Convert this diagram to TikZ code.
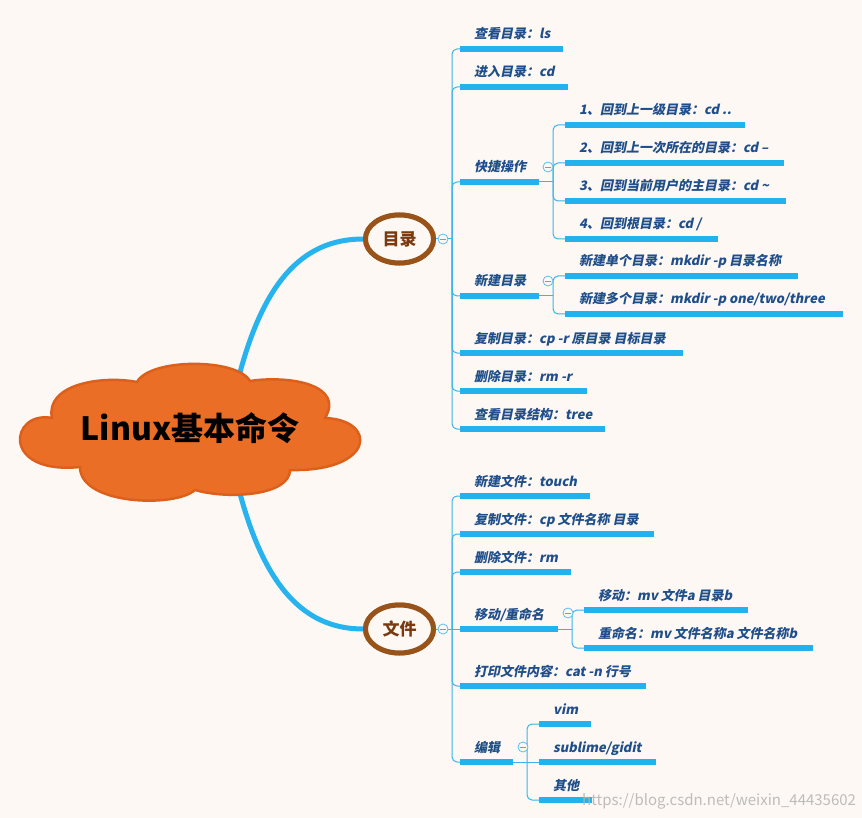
\documentclass[tikz,border=0pt]{standalone}
\usepackage{fontspec}
\newfontfamily\cjk{Noto Sans CJK SC}
\newfontfamily\cjkit{Noto Sans CJK SC}[BoldFeatures={FakeSlant=0.2}]
\usetikzlibrary{shapes.geometric}
\definecolor{bg}{HTML}{FDF8F3}
\definecolor{barblue}{HTML}{22B2EE}
\definecolor{lineblue}{HTML}{3AB4EA}
\definecolor{mainblue}{HTML}{27B4EE}
\definecolor{txtblue}{HTML}{1F4E8A}
\definecolor{ebrown}{HTML}{98531A}
\definecolor{etext}{HTML}{7A3A10}
\definecolor{cloudfill}{HTML}{EB6E27}
\definecolor{cloudline}{HTML}{DC601C}
\tikzset{
  bar/.style={rectangle, fill=barblue, draw=none, inner sep=0pt, minimum height=6pt, anchor=west},
  lbl/.style={anchor=base west, text=txtblue, inner sep=0pt, font=\cjkit\bfseries\fontsize{13}{13}\selectfont},
  conn/.style={draw=lineblue, line width=1pt, rounded corners=5pt},
  fold/.style={circle, draw=lineblue!85, fill=bg, line width=0.8pt, minimum size=10pt, inner sep=0pt,
    path picture={\draw[lineblue, line width=0.8pt] ([xshift=-2.6pt]path picture bounding box.center) -- ([xshift=2.6pt]path picture bounding box.center);}},
  topic/.style={ellipse, draw=ebrown, line width=5pt, fill=bg, minimum width=68pt, minimum height=48pt, inner sep=0pt, text=etext, font=\cjk\bfseries\fontsize{17}{17}\selectfont},
  mainconn/.style={draw=mainblue, line width=5pt},
}
\newcommand\leafitem[5]{%
  \node[bar, minimum width={#3-#2}] (#1) at (#2,#4) {};
  \node[lbl] (#1t) at (#2+14,#4-10) {#5};}
\begin{document}
\begin{tikzpicture}[x=1pt,y=-1pt]
\useasboundingbox (0,0) rectangle (862,818);
\fill[bg] (0,0) rectangle (862,818);

% topics
\node[topic] (mulu) at (399.5,239) {目录};
\node[topic] (wenjian) at (399.5,629) {文件};

% main connectors
\coordinate (rt) at (238,380);
\coordinate (rb) at (238,486);
\draw[mainconn] (rt) .. controls (262,286) and (300,239) .. (mulu.west);
\draw[mainconn] (rb) .. controls (262,580) and (300,629) .. (wenjian.west);

% cloud
\draw[fill=cloudfill, draw=cloudline, line width=2.5pt]
  (80,467) .. controls (0,475) and (10,410) .. (52,418)
  .. controls (45,385) and (100,375) .. (137,382)
  .. controls (150,358) and (237,358) .. (250,381)
  .. controls (290,375) and (345,385) .. (325,418)
  .. controls (378,420) and (375,472) .. (290,470)
  .. controls (290,495) and (230,500) .. (195,490)
  .. controls (175,508) and (80,505) .. (80,467) -- cycle;
\node[font=\cjk\bfseries\fontsize{32}{32}\selectfont, text=black, inner sep=0pt] (root) at (190,428) {Linux基本命令};
\node[topic] at (mulu) {目录};
\node[topic] at (wenjian) {文件};

% ---------- 目录 branch ----------
\leafitem{m1}{460}{563}{49}{查看目录：ls}
\leafitem{m2}{460}{568}{87}{进入目录：cd}
\leafitem{m3}{460}{539}{182}{快捷操作}
\leafitem{m4}{460}{539}{296}{新建目录}
\leafitem{m5}{460}{683}{353}{复制目录：cp -r 原目录 目标目录}
\leafitem{m6}{460}{587}{391}{删除目录：rm -r}
\leafitem{m7}{460}{605}{429}{查看目录结构：tree}

\coordinate (mj) at (452,239);
\draw[conn] (mulu.east) -- (mj);
\foreach \c in {m1,m2,m3,m4,m5,m6,m7} { \draw[conn] (mj) |- (\c.west); }
\node[fold] (fm) at (443,239) {};

\leafitem{s1}{565}{745}{125}{1、回到上一级目录：cd ..}
\leafitem{s2}{565}{784}{163}{2、回到上一次所在的目录：cd –}
\leafitem{s3}{565}{786}{201}{3、回到当前用户的主目录：cd \textasciitilde}
\leafitem{s4}{565}{718}{239}{4、回到根目录：cd /}
\coordinate (kj) at (553,182);
\draw[conn] (m3.east) -- (kj);
\foreach \c in {s1,s2,s3,s4} { \draw[conn] (kj) |- (\c.west); }
\node[fold] (fk) at (548,167) {};

\leafitem{n1}{565}{798}{276}{新建单个目录：mkdir -p 目录名称}
\leafitem{n2}{565}{843}{314}{新建多个目录：mkdir -p one/two/three}
\coordinate (xj) at (553,296);
\draw[conn] (m4.east) -- (xj);
\foreach \c in {n1,n2} { \draw[conn] (xj) |- (\c.west); }
\node[fold] (fx) at (548,281) {};

% ---------- 文件 branch ----------
\leafitem{f1}{460}{590}{496}{新建文件：touch}
\leafitem{f2}{460}{654}{534}{复制文件：cp 文件名称 目录}
\leafitem{f3}{460}{571}{572}{删除文件：rm}
\leafitem{f4}{460}{558}{629}{移动/重命名}
\leafitem{f5}{460}{646}{686}{打印文件内容：cat -n 行号}
\leafitem{f6}{460}{513}{762}{编辑}

\coordinate (wj) at (452,629);
\draw[conn] (wenjian.east) -- (wj);
\foreach \c in {f1,f2,f3,f5,f6} { \draw[conn] (wj) |- (\c.west); }
\draw[conn] (wj) -- (f4.west);
\node[fold] (fw) at (443,629) {};

\leafitem{g1}{584}{748}{610}{移动：mv 文件a 目录b}
\leafitem{g2}{584}{813}{648}{重命名：mv 文件名称a 文件名称b}
\coordinate (yj) at (572,629);
\draw[conn] (f4.east) -- (yj);
\foreach \c in {g1,g2} { \draw[conn] (yj) |- (\c.west); }
\node[fold] (fy) at (568,613) {};

\leafitem{h1}{539}{591}{724}{vim}
\leafitem{h2}{539}{656}{762}{sublime/gidit}
\leafitem{h3}{539}{592}{800}{其他}
\coordinate (bj) at (527,762);
\draw[conn] (f6.east) -- (h2.west);
\foreach \c in {h1,h3} { \draw[conn] (bj) |- (\c.west); }
\node[fold] (fb) at (523,747) {};

% watermark
\node[anchor=base west, inner sep=0pt, text=gray!60, opacity=0.85, font=\cjk\fontsize{15}{15}\selectfont] (wm) at (582,805) {https://blog.csdn.net/weixin\_44435602};
\end{tikzpicture}
\end{document}
